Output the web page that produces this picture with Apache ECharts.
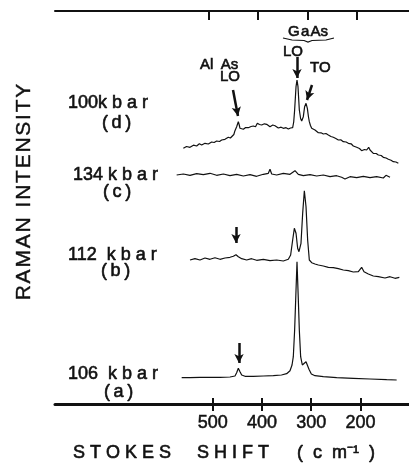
<!DOCTYPE html>
<html>
<head>
<meta charset="utf-8">
<script src="https://cdn.jsdelivr.net/npm/echarts@6/dist/echarts.min.js"></script>
<style>
  html, body { margin: 0; padding: 0; background: #fff; }
  #chart { width: 409px; height: 464px; }
</style>
</head>
<body>
<div id="chart"></div>
<script>
// 拉曼位移刻度
var shiftTicks = [500, 400, 300, 200];

// (d) 100 kbar
var shiftD = [559.5, 553, 546, 539, 532.5, 527, 522.3, 515.6, 512, 508.8, 502, 497, 491.9, 486, 481.7, 475, 471, 468.2, 464, 461.4, 457, 454.7, 451.3, 447.9, 446, 444.5, 441, 437.7, 433, 427.6, 422, 417.5, 413, 409.3, 405, 400.5, 395, 390.4, 387, 383.6, 378, 373.5, 370, 366.7, 361, 356.6, 351, 346.4, 342, 337.6, 335.5, 333.6, 330.8, 328.8, 326.8, 324.1, 321.5, 319.3, 316.0, 313.3, 310.5, 307.8, 305.5, 303.8, 301.5, 299.0, 295.5, 292.3, 289, 285.5, 280, 275.4, 270, 265.2, 260, 255.1, 250, 244.9, 240, 234.8, 229, 224.6, 219, 214.5, 211, 207.7, 202, 197.6, 192, 187.4, 183.3, 180.6, 177, 173.9, 168, 163.7, 158, 153.6, 148, 143.4, 138, 133.3, 128, 123.1];
var intensityD = [255.7, 257.5, 256.7, 258.8, 258.0, 260.2, 259.0, 260.7, 259.5, 260.0, 262.0, 261.5, 263.0, 262.5, 264.0, 264.7, 265.5, 266.7, 266.0, 268.0, 269.5, 273.3, 277.3, 282.3, 279, 275.7, 276.5, 274.7, 276.5, 276.3, 277.5, 278.0, 277.3, 280.7, 279.5, 279.0, 280.2, 279.7, 278.5, 277.3, 279.0, 278.3, 277.5, 276.0, 276.8, 275.7, 276.3, 275.0, 276.0, 276.3, 282, 294.0, 317.3, 324.0, 317.3, 294.0, 285.5, 283.0, 287.3, 297.3, 300.7, 295.7, 287, 282.3, 278.5, 275.7, 275.2, 274.0, 273.5, 271.3, 271.2, 270.0, 270.5, 269.0, 267.5, 266.7, 265.5, 264.0, 264.2, 262.3, 262.0, 260.7, 260.2, 258.0, 257.8, 256.7, 255.5, 253.3, 254.5, 254.0, 256.7, 254.0, 252.0, 250.7, 250.5, 249.0, 248.5, 246.7, 246.0, 244.7, 243.8, 242.3, 242.0, 240.7];

// (c) 134 kbar
var shiftC = [573.1, 559.5, 546.0, 532.5, 518.9, 505.4, 491.9, 478.3, 464.8, 451.3, 437.7, 424.2, 410.7, 397.1, 387.0, 383.6, 380.2, 370.1, 356.6, 343.0, 332.9, 326.1, 316.0, 302.4, 288.9, 275.4, 261.8, 248.3, 238.2, 231.4, 221.2, 207.7, 194.2, 180.6, 167.1, 153.6, 148.2, 140.0];
var intensityC = [229.0, 230.0, 228.7, 230.3, 229.3, 230.7, 228.7, 230.0, 228.3, 229.7, 228.0, 229.3, 227.7, 229.7, 230.7, 234.7, 230.0, 229.0, 230.7, 229.7, 233.3, 229.7, 228.3, 229.3, 228.0, 229.0, 227.3, 228.3, 226.7, 225.0, 227.3, 226.3, 227.7, 226.3, 227.3, 226.0, 228.7, 226.7];

// (b) 112 kbar
var shiftB = [546.0, 535.9, 525.7, 515.6, 505.4, 495.3, 485.1, 475.0, 464.8, 458.0, 452.6, 447.9, 441.1, 431.0, 420.9, 410.7, 397.1, 383.6, 370.1, 356.6, 346.4, 341.7, 337.6, 334.2, 330.8, 327.5, 324.8, 320.7, 317.3, 313.9, 310.5, 307.2, 303.8, 299.0, 292.3, 285.5, 275.4, 265.2, 255.1, 244.9, 234.8, 224.6, 214.5, 204.3, 197.6, 192.8, 184.0, 173.9, 163.7, 150.2, 140.0, 129.9, 121.1];
var intensityB = [144.0, 145.3, 144.0, 146.0, 144.7, 146.3, 144.7, 146.0, 146.7, 147.7, 149.3, 147.3, 145.3, 144.0, 145.3, 143.7, 144.7, 143.3, 144.0, 143.0, 144.7, 149.0, 164.0, 175.7, 170.7, 155.7, 152.3, 160.7, 190.7, 213.3, 197.3, 164.0, 144.0, 141.3, 140.0, 139.0, 138.0, 136.7, 136.3, 135.3, 134.0, 133.3, 132.0, 132.3, 136.7, 132.3, 130.0, 128.0, 127.3, 126.0, 127.3, 125.7, 126.7];

// (a) 106 kbar
var shiftA = [562.9, 546.0, 525.7, 505.4, 485.1, 464.8, 454.7, 451.3, 447.9, 444.5, 441.1, 434.4, 417.5, 397.1, 376.9, 360.3, 349.8, 343.0, 338.9, 336.3, 333.6, 331.5, 328.8, 326.1, 324.1, 321.4, 318.0, 314.6, 310.5, 307.8, 304.5, 299.7, 292.3, 275.4, 248.3, 214.5, 180.6, 146.8, 126.5];
var intensityA = [26.3, 26.3, 26.7, 26.7, 26.7, 27.0, 28.0, 31.3, 35.7, 32.3, 29.0, 27.7, 27.7, 28.0, 28.3, 29.0, 30.3, 33.3, 39.0, 47.3, 74.0, 104.0, 142.3, 104.0, 74.0, 47.3, 39.0, 38.0, 42.3, 40.7, 34.7, 30.0, 28.3, 27.3, 26.3, 25.7, 25.0, 24.3, 24.0];

// 标注箭头 [起点位移, 起点强度, 终点位移, 终点强度]
var arrowsD = [[458.7, 314, 448.6, 288], [328.8, 347, 328.8, 326], [298.4, 319, 308.5, 304]];
var arrowsB = [[452.6, 177, 452.6, 161]];
var arrowsA = [[446.5, 61, 446.5, 41]];

function pairs(xs, ys) {
    return xs.map(function (x, i) { return [x, ys[i]]; });
}

function arrowLines(list) {
    return {
        silent: true,
        symbol: ['none', 'arrow'],
        symbolSize: [7, 9],
        label: {show: false},
        lineStyle: {type: 'solid', width: 2.5, color: '#111'},
        data: list.map(function (a) {
            return [{coord: [a[0], a[1]]}, {coord: [a[2], a[3]]}];
        })
    };
}

function spectrum(xs, ys, arrows) {
    var s = {
        type: 'line',
        xAxisIndex: 0,
        yAxisIndex: 0,
        showSymbol: false,
        silent: true,
        animation: false,
        lineStyle: {width: 1.2, color: '#111'},
        data: pairs(xs, ys)
    };
    if (arrows) s.markLine = arrowLines(arrows);
    return s;
}

var chart = echarts.init(document.getElementById('chart'));

var textFont = '"Liberation Sans", Arial, sans-serif';

// 扫描件的字偏粗，加一点描边
function label(text, x, y, size, align) {
    return {
        type: 'text',
        x: x,
        y: y,
        style: {
            text: text,
            fill: '#111',
            stroke: '#111',
            lineWidth: 0.6,
            font: size + 'px ' + textFont,
            textAlign: align || 'left',
            textVerticalAlign: 'middle'
        }
    };
}

var option = {
    backgroundColor: '#fff',
    animation: false,
    grid: {left: 55, top: 11, width: 404, height: 393, outerBoundsMode: 'none'},
    xAxis: [
        {
            type: 'value',
            position: 'bottom',
            inverse: true,
            min: 0,
            max: 820,
            interval: 100,
            axisLine: {lineStyle: {color: '#111', width: 3}},
            axisTick: {customValues: shiftTicks, length: 7, lineStyle: {color: '#111', width: 2}},
            axisLabel: {
                customValues: shiftTicks, color: '#111', fontSize: 18, fontFamily: textFont, margin: 10,
                textBorderColor: '#111', textBorderWidth: 0.5
            },
            splitLine: {show: false}
        },
        {
            type: 'value',
            position: 'top',
            inverse: true,
            min: -8,
            max: 812,
            interval: 100,
            axisLine: {lineStyle: {color: '#111', width: 2}},
            axisTick: {customValues: shiftTicks, inside: true, length: 9, lineStyle: {color: '#111', width: 2}},
            axisLabel: {show: false},
            splitLine: {show: false}
        },
        {
            type: 'value',
            position: 'bottom',
            inverse: true,
            min: 0,
            max: 820,
            interval: 100,
            axisLine: {show: false},
            axisTick: {customValues: shiftTicks, inside: true, length: 6, lineStyle: {color: '#111', width: 2}},
            axisLabel: {show: false},
            splitLine: {show: false}
        }
    ],
    yAxis: {
        type: 'value',
        min: 0,
        max: 393,
        axisLine: {show: true, lineStyle: {color: '#111', width: 2}},
        axisTick: {show: false},
        axisLabel: {show: false},
        splitLine: {show: false}
    },
    series: [
        spectrum(shiftD, intensityD, arrowsD),
        spectrum(shiftC, intensityC),
        spectrum(shiftB, intensityB, arrowsB),
        spectrum(shiftA, intensityA, arrowsA)
    ],
    graphic: [
        label('100k b a r', 68, 103, 18),
        label('(\u2009d\u2009)', 102, 123, 18),
        label('134 k b a r', 73, 175, 18),
        label('(\u2009c\u2009)', 103, 192, 18),
        label('112  k b a r', 68, 255, 18),
        label('(\u2009b\u2009)', 101, 271, 18),
        label('106  k b a r', 68, 374, 18),
        label('(\u2009a\u2009)', 104, 392, 18),
        label('Al\u2002As', 200, 65, 15),
        label('LO', 220, 76.5, 15),
        label('G\u200aa\u200aAs', 288, 32, 15),
        label('LO', 283, 52, 15),
        label('TO', 310, 68, 15),
        {
            type: 'polyline',
            shape: {points: [[283, 38], [292, 40], [304, 40.5], [308, 42], [312, 40.5], [326, 40], [334, 38]]},
            style: {stroke: '#111', lineWidth: 1.2, fill: null}
        },
        label('S T O K E S', 73, 453, 18),
        label('S H I F T', 197, 453, 18),
        label('(  c  m\u207b\u00b9  )', 297, 453, 18),
        {
            type: 'text',
            x: 24,
            y: 192,
            rotation: Math.PI / 2,
            style: {
                text: 'R\u200aA\u200aM\u200aA\u200aN\u2009 I\u200aN\u200aT\u200aE\u200aN\u200aS\u200aI\u200aT\u200aY',
                fill: '#111',
                stroke: '#111',
                lineWidth: 0.4,
                font: '21px ' + textFont,
                textAlign: 'center',
                textVerticalAlign: 'middle'
            }
        }
    ]
};

chart.setOption(option);
</script>
</body>
</html>
